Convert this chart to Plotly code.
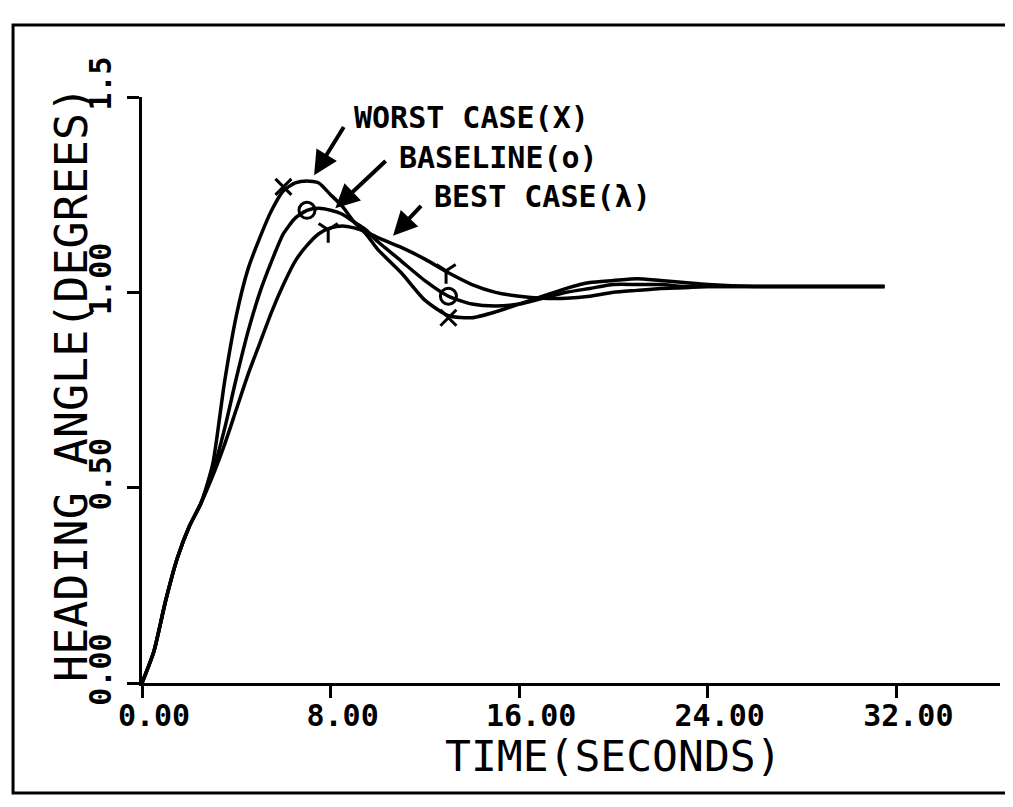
import plotly.graph_objects as go

# time grid (seconds) and heading angle (degrees)
time_s = [0, 0.5, 1, 1.5, 2, 2.5, 3, 3.5, 4, 4.5, 5, 5.5, 6, 6.5, 7, 7.5, 8, 8.5, 9, 9.5,
          10, 11, 12, 13, 14, 15, 16, 17, 18, 19, 20, 21, 22, 23, 24, 26, 28, 30, 31.5]

worst_case = [0, 0.08, 0.21, 0.32, 0.40, 0.46, 0.56, 0.77, 0.94, 1.06, 1.14, 1.21, 1.26, 1.28,
              1.285, 1.28, 1.25, 1.22, 1.18, 1.15, 1.11, 1.05, 0.98, 0.94, 0.935, 0.95, 0.97,
              0.99, 1.01, 1.025, 1.03, 1.035, 1.03, 1.025, 1.02, 1.015, 1.015, 1.015, 1.015]

baseline = [0, 0.08, 0.21, 0.32, 0.40, 0.46, 0.54, 0.65, 0.78, 0.90, 1.00, 1.08, 1.15, 1.19,
            1.21, 1.215, 1.21, 1.20, 1.18, 1.16, 1.13, 1.08, 1.03, 0.99, 0.97, 0.965, 0.97,
            0.985, 1.0, 1.01, 1.02, 1.02, 1.02, 1.015, 1.015, 1.015, 1.015, 1.015, 1.015]

best_case = [0, 0.08, 0.21, 0.32, 0.40, 0.46, 0.53, 0.61, 0.70, 0.79, 0.87, 0.95, 1.02, 1.08,
             1.12, 1.15, 1.165, 1.17, 1.165, 1.155, 1.14, 1.115, 1.085, 1.05, 1.02, 1.00, 0.99,
             0.985, 0.985, 0.99, 1.0, 1.005, 1.01, 1.012, 1.015, 1.015, 1.015, 1.015, 1.015]

# symbol positions on each curve
worst_mark_t = [6.0, 13.0]
worst_mark_y = [1.27, 0.935]
base_mark_t = [7.0, 13.0]
base_mark_y = [1.21, 0.99]
best_mark_t = [7.9, 12.9]
best_mark_y = [1.16, 1.055]

x_ticks = [0, 8, 16, 24, 32]
x_ticktext = ['0.00', '8.00', '16.00', '24.00', '32.00']
y_ticks = [0, 0.5, 1.0, 1.5]
y_ticktext = ['0.00', '0.50', '1.00', '1.5']

FONT = 'DejaVu Sans Mono'

fig = go.Figure()
for y in [worst_case, baseline, best_case]:
    fig.add_trace(go.Scatter(x=time_s, y=y, mode='lines',
                             line=dict(color='black', width=3.5, shape='spline', smoothing=0.6),
                             showlegend=False, hoverinfo='skip'))

marks = [(worst_mark_t, worst_mark_y, 'x-thin-open'),
         (base_mark_t, base_mark_y, 'circle-open'),
         (best_mark_t, best_mark_y, 'y-down-open')]
for mt, my, sym in marks:
    fig.add_trace(go.Scatter(x=mt, y=my, mode='markers', cliponaxis=False,
                             marker=dict(symbol=sym, size=16, color='black',
                                         line=dict(color='black', width=3)),
                             showlegend=False, hoverinfo='skip'))

# labels with arrows
labels = [('WORST CASE(X)', 8.9, 1.447, 7.3, 1.30, 8.6, 1.427),
          ('BASELINE(o)', 10.8, 1.345, 8.2, 1.215, 10.4, 1.34),
          ('BEST CASE(\u03bb)', 12.3, 1.245, 10.65, 1.145, 11.9, 1.225)]
for txt, tx, ty, hx, hy, sx, sy in labels:
    fig.add_annotation(x=tx, y=ty, text=txt, showarrow=False, xanchor='left', yanchor='middle',
                       font=dict(family=FONT, size=30, color='black', weight='bold'))
    fig.add_annotation(x=hx, y=hy, ax=sx, ay=sy, axref='x', ayref='y', text='',
                       showarrow=True, arrowhead=2, arrowsize=1.2, arrowwidth=4,
                       arrowcolor='black')

# arrowhead at the end of the time axis
fig.add_annotation(x=36.5, y=0, ax=-25, ay=0, text='', showarrow=True, arrowhead=2,
                   arrowsize=1.3, arrowwidth=3, arrowcolor='black', standoff=0)

fig.add_annotation(x=0.55, y=-0.125, xref='paper', yref='paper', text='TIME(SECONDS)',
                   showarrow=False, xanchor='center', yanchor='middle',
                   font=dict(family=FONT, size=43, color='black'))
fig.add_annotation(x=-0.083, y=0.51, xref='paper', yref='paper', text='HEADING ANGLE(DEGREES)',
                   textangle=-90, showarrow=False, xanchor='center', yanchor='middle',
                   font=dict(family=FONT, size=45, color='black'))

# outer frame of the page
fig.add_shape(type='rect', xref='paper', yref='paper', x0=-0.1503, x1=1.05, y0=-0.1877, y1=1.1229,
              line=dict(color='black', width=3))

fig.update_layout(
    width=1013, height=807,
    margin=dict(l=134, r=21, t=89, b=132),
    paper_bgcolor='white', plot_bgcolor='white',
    xaxis=dict(range=[0, 36.4], tickvals=x_ticks, ticktext=x_ticktext,
               showline=True, linecolor='black', linewidth=3, showgrid=False, zeroline=False,
               ticks='outside', ticklen=12, tickwidth=3, tickcolor='black',
               ticklabelshift=12, ticklabelstandoff=-8,
               tickfont=dict(family=FONT, size=30, color='black', weight='bold')),
    yaxis=dict(range=[0, 1.5], tickvals=y_ticks, ticktext=y_ticktext, tickangle=-90,
               showline=True, linecolor='black', linewidth=3, showgrid=False, zeroline=False,
               ticks='outside', ticklen=12, tickwidth=3, tickcolor='black',
               ticklabelshift=-9, ticklabelstandoff=4,
               tickfont=dict(family=FONT, size=30, color='black', weight='bold')),
)

fig.write_html('out.html')
